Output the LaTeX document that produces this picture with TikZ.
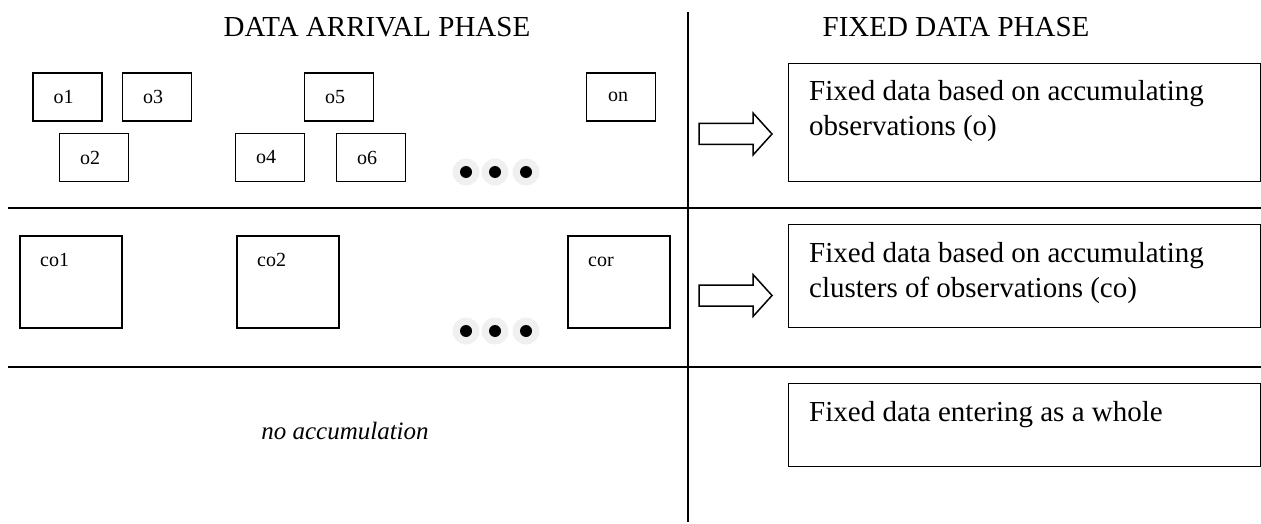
\documentclass[tikz,border=0pt]{standalone}
\usepackage{fontspec}
\setmainfont{Liberation Serif}
\begin{document}
\begin{tikzpicture}[x=1pt,y=-1pt,
  bigtext/.style={font=\fontsize{29}{35}\selectfont, inner sep=0pt},
  smalltext/.style={font=\fontsize{20}{24}\selectfont, inner sep=0pt},
  obox/.style={draw, line width=1.6pt, minimum width=69pt, minimum height=48pt, inner sep=0pt},
  cobox/.style={draw, line width=1.6pt, minimum width=102pt, minimum height=92pt, inner sep=0pt, anchor=north west},
  fixbox/.style={draw, line width=1.4pt, minimum width=472pt, inner sep=0pt, anchor=north west},
  sepline/.style={line width=1.6pt},
  blockarrow/.style={draw, line width=1.5pt, fill=white},
  halo/.style={fill=black!6, draw=none},
  dot/.style={fill=black, draw=none}
]
\useasboundingbox (0,0) rectangle (1261,524);

% column separator and row separators
\coordinate (vtop) at (688,12);
\coordinate (vbot) at (688,522);
\coordinate (h1l) at (8,208);
\coordinate (h1r) at (1261,208);
\coordinate (h2l) at (8,367);
\coordinate (h2r) at (1261,367);
\draw[sepline] (vtop) -- (vbot);
\draw[sepline] (h1l) -- (h1r);
\draw[sepline] (h2l) -- (h2r);

% column headings
\node[bigtext, anchor=base] (hleft) at (377,37) {DATA ARRIVAL PHASE};
\node[bigtext, anchor=base] (hright) at (956,37) {FIXED DATA PHASE};

% single observations
\node[obox, label={[smalltext, xshift=-4pt]center:o1}] (o1) at (67.5,97) {};
\node[obox, label={[smalltext, xshift=-4pt]center:o3}] (o3) at (157,97) {};
\node[obox, label={[smalltext, xshift=-4pt]center:o5}] (o5) at (339,97) {};
\node[obox, label={[smalltext, xshift=-3pt]center:on}] (on) at (621,97) {};
\node[obox, label={[smalltext, xshift=-4pt]center:o2}] (o2) at (94,157.5) {};
\node[obox, label={[smalltext, xshift=-4pt]center:o4}] (o4) at (270,157.5) {};
\node[obox, label={[smalltext, xshift=-4pt]center:o6}] (o6) at (371,157.5) {};

% ellipsis dots, first row
\foreach \i/\x in {1/466,2/495,3/526} {
  \fill[halo] (\x,172) circle (13.5);
  \fill[dot] (\x,172) circle (6);
}

% clusters of observations
\node[cobox] (co1) at (19,235) {};
\node[cobox] (co2) at (236,235) {};
\node[cobox] (cor) at (567,235) {};
\node[smalltext, anchor=base west] (co1t) at ([shift={(21,31)}]co1.north west) {co1};
\node[smalltext, anchor=base west] (co2t) at ([shift={(21,31)}]co2.north west) {co2};
\node[smalltext, anchor=base west] (cort) at ([shift={(21,31)}]cor.north west) {cor};

% ellipsis dots, second row
\foreach \i/\x in {1/466,2/495,3/526} {
  \fill[halo] (\x,331) circle (13.5);
  \fill[dot] (\x,331) circle (6);
}

% block arrows
\coordinate (a1) at (699,134);
\coordinate (a2) at (699,295.5);
\foreach \a in {a1,a2} {
  \draw[blockarrow, line join=miter] ([shift={(0,-10.5)}]\a) -- ++(54,0) -- ++(0,-10.5)
    -- ++(19,21) -- ++(-19,21) -- ++(0,-10.5) -- ++(-54,0) -- cycle;
}

% fixed data boxes
\node[fixbox, minimum height=118pt] (r1) at (788,63) {};
\node[fixbox, minimum height=103pt] (r2) at (788,224) {};
\node[fixbox, minimum height=83pt] (r3) at (788,383) {};
\node[bigtext, anchor=base west] (r1a) at ([shift={(21,38)}]r1.north west) {Fixed data based on accumulating};
\node[bigtext, anchor=base west] (r1b) at ([shift={(21,73)}]r1.north west) {observations (o)};
\node[bigtext, anchor=base west] (r2a) at ([shift={(21,38)}]r2.north west) {Fixed data based on accumulating};
\node[bigtext, anchor=base west] (r2b) at ([shift={(21,73)}]r2.north west) {clusters of observations (co)};
\node[bigtext, anchor=base west] (r3a) at ([shift={(21,38)}]r3.north west) {Fixed data entering as a whole};

% third row, arrival side
\node[inner sep=0pt, anchor=base, font=\fontsize{25}{30}\selectfont\itshape] (noacc) at (345,439) {no accumulation};
\end{tikzpicture}
\end{document}
